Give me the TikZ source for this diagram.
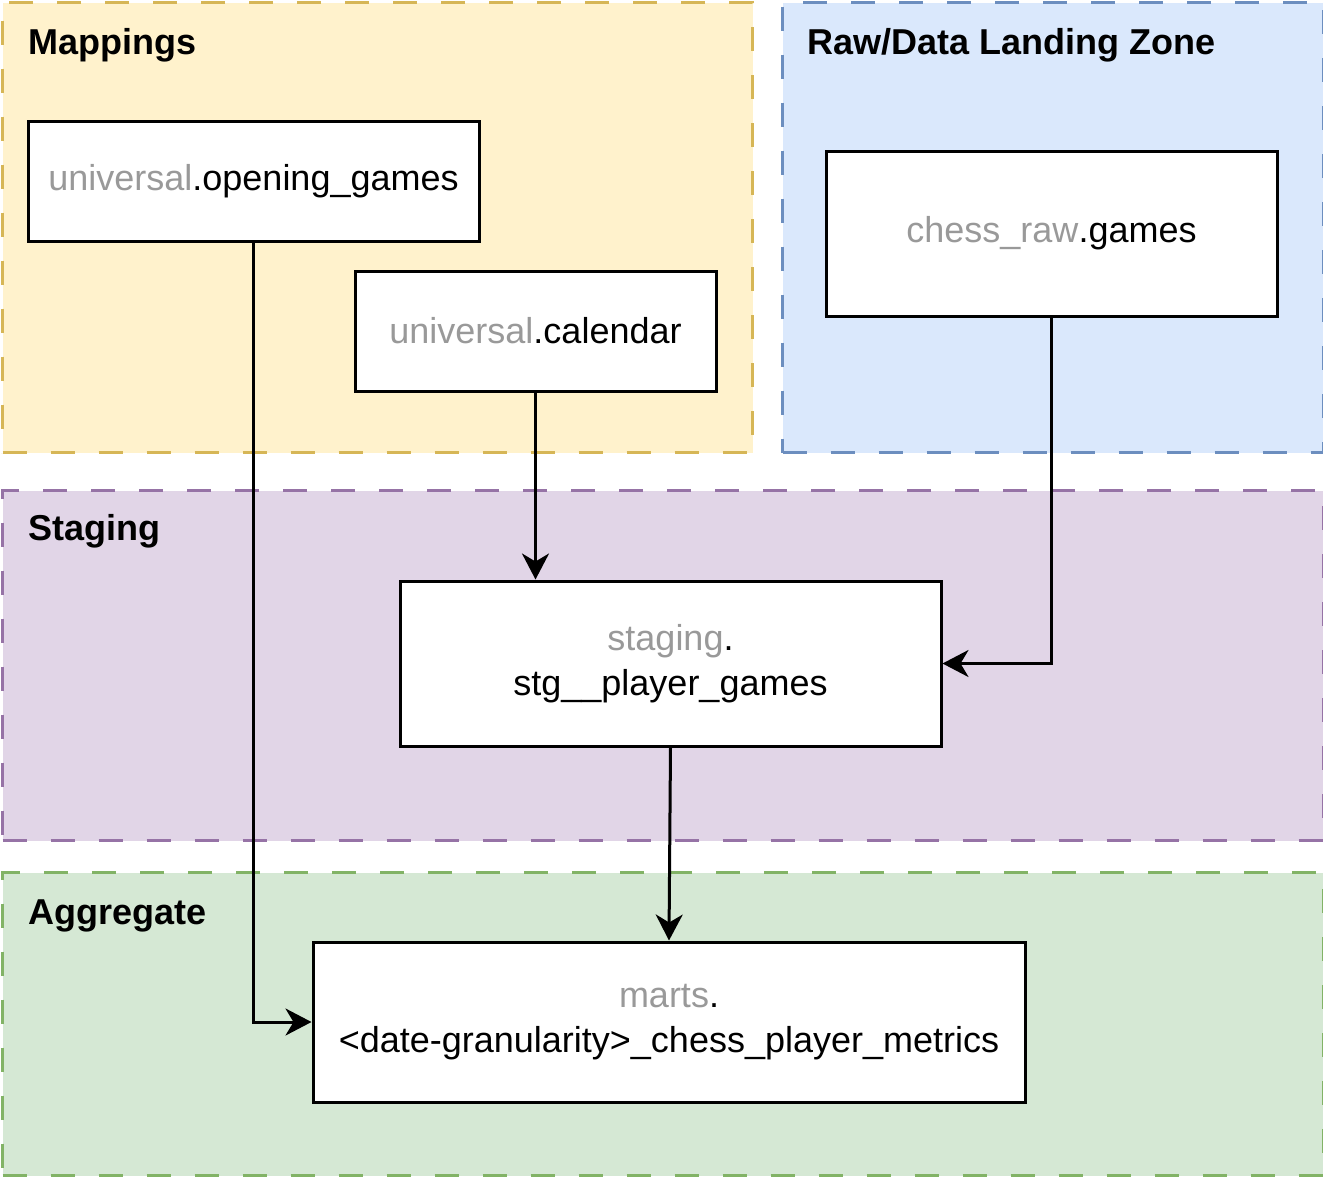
\documentclass[tikz,border=0pt]{standalone}
\usepackage{fontspec}
\setmainfont{Liberation Sans}
\usetikzlibrary{arrows.meta}
\definecolor{mapfill}{HTML}{FFF2CC}\definecolor{mapline}{HTML}{D6B656}
\definecolor{rawfill}{HTML}{DAE8FC}\definecolor{rawline}{HTML}{6C8EBF}
\definecolor{stgfill}{HTML}{E1D5E7}\definecolor{stgline}{HTML}{9673A6}
\definecolor{aggfill}{HTML}{D5E8D4}\definecolor{aggline}{HTML}{82B366}
\definecolor{schemagrey}{HTML}{999999}
\tikzset{
  container/.style={rectangle, anchor=north west, inner sep=0pt, line width=3pt, dash pattern=on 24pt off 24pt},
  title/.style={anchor=base west, inner sep=0pt, font=\fontsize{36}{44}\selectfont\bfseries},
  table/.style={rectangle, draw=black, fill=white, line width=3pt, inner sep=0pt, align=center, font=\fontsize{36}{45}\selectfont},
  arr/.style={line width=3pt, -{Stealth[length=26pt, width=27pt, inset=8pt]}},
}
\newcommand{\sch}[1]{\textcolor{schemagrey}{#1}}
\begin{document}
\begin{tikzpicture}[x=1pt,y=-1pt]
\useasboundingbox (0,0) rectangle (1323,1176);
% containers
\node[container, draw=mapline, fill=mapfill, minimum width=750pt, minimum height=450pt] (mapbox) at (1,1) {};
\node[container, draw=rawline, fill=rawfill, minimum width=541pt, minimum height=450pt] (rawbox) at (781,1) {};
\node[container, draw=stgline, fill=stgfill, minimum width=1321pt, minimum height=350pt] (stgbox) at (1,489) {};
\node[container, draw=aggline, fill=aggfill, minimum width=1321pt, minimum height=303pt] (aggbox) at (1,871) {};
% titles
\node[title] (tmap) at (28,54) {Mappings};
\node[title] (traw) at (807,54) {Raw/Data Landing Zone};
\node[title] (tstg) at (28,540) {Staging};
\node[title] (tagg) at (28,924) {Aggregate};
% tables
\node[table, minimum width=451pt, minimum height=120pt] (og) at (253.5,181) {\sch{universal}.opening\_games};
\node[table, minimum width=361pt, minimum height=120pt] (cal) at (535.5,331) {\sch{universal}.calendar};
\node[table, minimum width=451pt, minimum height=165pt] (raw) at (1051.5,233.5) {\sch{chess\_raw}.games};
\node[table, minimum width=541pt, minimum height=165pt] (stg) at (670.5,663.5) {\sch{staging}.\\stg\_\_player\_games};
\node[table, minimum width=712pt, minimum height=160pt] (marts) at (669,1022) {\sch{marts}.\\<date-granularity>\_chess\_player\_metrics};
% connectors
\draw[arr] (og.south) |- (marts.west);
\draw[arr] (cal.south) -- (cal.south |- stg.north);
\draw[arr] (raw.south) |- (stg.east);
\draw[arr] (stg.south) -- (marts.north);
\end{tikzpicture}
\end{document}
